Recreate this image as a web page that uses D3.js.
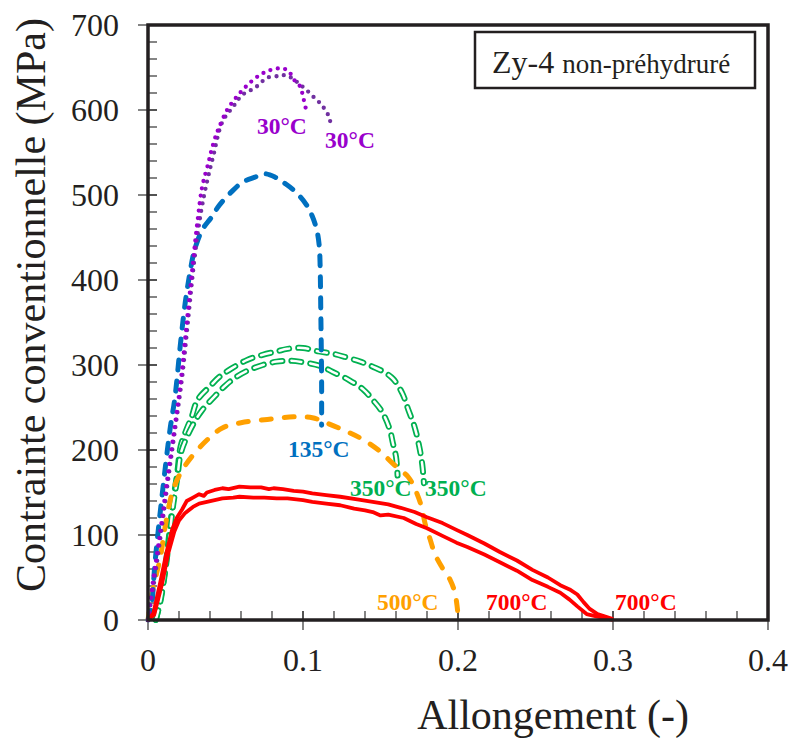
<!DOCTYPE html>
<html><head><meta charset="utf-8">
<script src="https://cdn.jsdelivr.net/npm/d3@7"></script>
<style>body{margin:0;background:#fff}svg{display:block}text,tspan{font-family:"Liberation Serif","Times New Roman",serif}</style>
</head><body>
<script>
const xTicks = [0, 0.1, 0.2, 0.3, 0.4];
const xTickLabels = ["0", "0.1", "0.2", "0.3", "0.4"];
const yTicks = [0, 100, 200, 300, 400, 500, 600, 700];

const purple30a = [[0,0],[0.003,43],[0.008,105],[0.012,160],[0.016,212],[0.021,279],[0.025,350],[0.029,420],[0.032,470],[0.035,510],[0.039,538],[0.041,553],[0.044,571],[0.046,580],[0.051,600],[0.057,615],[0.064,629],[0.072,641],[0.079,647],[0.087,649],[0.091,645],[0.094,636],[0.098,628],[0.1005,612],[0.102,600]];
const purple30b = [[0,0],[0.004,45],[0.009,110],[0.013,165],[0.017,218],[0.022,285],[0.026,355],[0.030,425],[0.034,478],[0.038,515],[0.042,545],[0.048,586],[0.055,604],[0.061,618],[0.069,626],[0.077,638],[0.085,640],[0.089,641],[0.094,636],[0.098,630],[0.102,624],[0.107,615],[0.111,608],[0.114,601],[0.117,591],[0.118,580]];
const blue135 = [[0,0],[0.002,12],[0.0045,67],[0.009,145],[0.0142,224],[0.0174,262],[0.021,326],[0.024,373],[0.027,408],[0.030,435],[0.035,459],[0.041,474],[0.046,488],[0.054,504],[0.061,515],[0.069,521],[0.075,525],[0.082,521],[0.088,514],[0.095,504],[0.102,489],[0.106,475],[0.109,458],[0.1105,440],[0.111,420],[0.1115,361],[0.112,282],[0.112,229]];
const green350a = [[0.005,0],[0.008,24],[0.011,59],[0.014,106],[0.016,137],[0.019,175],[0.021,204],[0.025,225],[0.028,238],[0.032,259],[0.040,275],[0.046,286],[0.054,296],[0.064,306],[0.074,312],[0.083,316],[0.090,319],[0.100,320],[0.110,316],[0.120,313],[0.128,309],[0.137,304],[0.145,298],[0.152,292],[0.158,284],[0.164,267],[0.168,247],[0.172,227],[0.175,204],[0.177,182],[0.178,161]];
const green350b = [[0.005,0],[0.008,22],[0.011,56],[0.014,100],[0.016,132],[0.019,168],[0.021,195],[0.025,215],[0.030,233],[0.035,247],[0.043,263],[0.050,276],[0.057,286],[0.065,294],[0.074,300],[0.083,304],[0.092,305],[0.101,303],[0.111,299],[0.119,292],[0.130,282],[0.139,271],[0.145,259],[0.151,245],[0.156,224],[0.158,208],[0.160,192],[0.161,170]];
const orange500 = [[0,0],[0.003,35],[0.008,74],[0.011,109],[0.0155,149],[0.021,173],[0.029,194],[0.040,215],[0.048,226],[0.060,232],[0.077,236],[0.094,239],[0.106,238],[0.115,232],[0.128,222],[0.139,212],[0.150,198],[0.158,184],[0.168,168],[0.172,155],[0.176,136],[0.179,112],[0.182,95],[0.185,78],[0.189,64],[0.195,47],[0.198,32],[0.1995,15],[0.2,5]];
const red700a = [[0,0],[0.0035,8],[0.008,45],[0.012,80],[0.0155,106],[0.0185,120],[0.022,130],[0.025,140],[0.029,144],[0.033,148],[0.036,146],[0.038,150],[0.043,153],[0.048,155],[0.052,154],[0.059,157],[0.066,156],[0.073,156],[0.078,154],[0.081,155],[0.087,154],[0.094,152],[0.1,151],[0.106,149],[0.115,147],[0.124,145],[0.135,142],[0.145,139],[0.155,136],[0.163,132],[0.172,127],[0.18,121],[0.19,114],[0.199,106],[0.206,100],[0.217,90],[0.227,80],[0.238,70],[0.248,59],[0.258,50],[0.266,41],[0.272,36],[0.277,30],[0.281,21],[0.285,13],[0.29,7],[0.295,4],[0.3,1]];
const red700b = [[0,0],[0.004,6],[0.009,42],[0.013,78],[0.017,104],[0.02,117],[0.024,126],[0.029,133],[0.033,137],[0.038,139],[0.043,141],[0.048,143],[0.055,144],[0.059,145],[0.068,144],[0.075,144],[0.083,143],[0.09,143],[0.1,141],[0.106,139],[0.115,137],[0.124,135],[0.133,131],[0.14,129],[0.145,127],[0.15,123],[0.155,124],[0.165,120],[0.173,113],[0.18,108],[0.19,99],[0.199,91],[0.206,86],[0.217,77],[0.227,68],[0.238,58],[0.248,47],[0.258,39],[0.266,32],[0.272,24],[0.277,16],[0.283,7],[0.292,3],[0.3,0]];

const labelTexts = ["30°C","30°C","135°C","350°C","350°C","500°C","700°C","700°C"];
const labelX = [0.0703,0.1142,0.0903,0.1303,0.1787,0.1477,0.218,0.3013];
const labelY = [572,555,192,146,146,12,12,12];
const labelColors = ["#9900cc","#9900cc","#0070c0","#00b050","#00b050","#ffa000","#ff0000","#ff0000"];

const W = 790, H = 738;
const FONT = '"Liberation Serif","Times New Roman",serif';
const svg = d3.select("body").append("svg").attr("width", W).attr("height", H);
const x = d3.scaleLinear().domain([0, 0.4]).range([148, 768]);
const y = d3.scaleLinear().domain([0, 700]).range([620, 25]);

const line = d3.line().x(d => x(d[0])).y(d => y(d[1])).curve(d3.curveCatmullRom.alpha(0.5));
const lineLin = d3.line().x(d => x(d[0])).y(d => y(d[1]));

// minor ticks
const yMinor = d3.range(0, 701, 20);
svg.append("g").selectAll("line").data(yMinor).join("line")
  .attr("x1", 148).attr("x2", 157).attr("y1", d => y(d)).attr("y2", d => y(d))
  .attr("stroke", "#333").attr("stroke-width", 1.2);
svg.append("g").selectAll("line").data(yTicks).join("line")
  .attr("x1", 138).attr("x2", 157).attr("y1", d => y(d)).attr("y2", d => y(d))
  .attr("stroke", "#333").attr("stroke-width", 1.2);
const xMinor = d3.range(0, 21).map(i => i * 0.02);
svg.append("g").selectAll("line").data(xMinor).join("line")
  .attr("x1", d => x(d)).attr("x2", d => x(d)).attr("y1", 611).attr("y2", 620)
  .attr("stroke", "#333").attr("stroke-width", 1.2);
svg.append("g").selectAll("line").data(xTicks).join("line")
  .attr("x1", d => x(d)).attr("x2", d => x(d)).attr("y1", 611).attr("y2", 630)
  .attr("stroke", "#333").attr("stroke-width", 1.2);

// tick labels
svg.append("g").selectAll("text").data(yTicks).join("text")
  .attr("x", 119).attr("y", d => y(d)).attr("dy", "0.35em").attr("font-family", FONT)
  .attr("text-anchor", "end").attr("font-size", 32).attr("fill", "#231f20").text(d => d);
svg.append("g").selectAll("text").data(xTicks).join("text")
  .attr("x", d => x(d)).attr("y", 671).attr("font-family", FONT)
  .attr("text-anchor", "middle").attr("font-size", 32).attr("fill", "#231f20").text((d, i) => xTickLabels[i]);

// axis titles
svg.append("text").attr("transform", "translate(45,305) rotate(-90)").attr("font-family", FONT)
  .attr("text-anchor", "middle").attr("font-size", 42).attr("fill", "#231f20")
  .text("Contrainte conventionnelle (MPa)");
svg.append("text").attr("x", 553).attr("y", 729).attr("font-family", FONT)
  .attr("text-anchor", "middle").attr("font-size", 42).attr("fill", "#231f20")
  .text("Allongement (-)");

// curves
function outlinedDash(data, color) {
  svg.append("path").attr("d", line(data)).attr("fill", "none").attr("stroke", color)
    .attr("stroke-width", 6).attr("stroke-linecap", "round").attr("stroke-dasharray", "10 9");
  svg.append("path").attr("d", line(data)).attr("fill", "none").attr("stroke", "#fff")
    .attr("stroke-width", 2.5).attr("stroke-linecap", "round").attr("stroke-dasharray", "10 9");
}
outlinedDash(green350a, "#00b050");
outlinedDash(green350b, "#00b050");

svg.append("path").attr("d", line(orange500)).attr("fill", "none").attr("stroke", "#ffa000")
  .attr("stroke-width", 5).attr("stroke-linecap", "round").attr("stroke-dasharray", "10 13");
svg.append("path").attr("d", line(blue135)).attr("fill", "none").attr("stroke", "#0070c0")
  .attr("stroke-width", 5).attr("stroke-linecap", "round").attr("stroke-dasharray", "10 11");
svg.append("path").attr("d", line(purple30b)).attr("fill", "none").attr("stroke", "#7030a0")
  .attr("stroke-width", 4.3).attr("stroke-linecap", "round").attr("stroke-dasharray", "0 7.5");
svg.append("path").attr("d", line(purple30a)).attr("fill", "none").attr("stroke", "#9900cc")
  .attr("stroke-width", 4.3).attr("stroke-linecap", "round").attr("stroke-dasharray", "0 7.5");
[red700a, red700b].forEach(d => {
  svg.append("path").attr("d", lineLin(d)).attr("fill", "none").attr("stroke", "#ff0000")
    .attr("stroke-width", 3.8).attr("stroke-linejoin", "round");
});

// curve labels
svg.append("g").selectAll("text").data(labelTexts).join("text")
  .attr("x", (d, i) => x(labelX[i])).attr("y", (d, i) => y(labelY[i]))
  .attr("font-family", FONT).attr("font-size", 23.5).attr("font-weight", "bold")
  .attr("fill", (d, i) => labelColors[i]).text(d => d);

// frame
svg.append("path").attr("d", `M${x(0)},${y(0)}V${y(700)}H${x(0.4)}V${y(0)}Z`)
  .attr("fill", "none").attr("stroke", "#231f20").attr("stroke-width", 3.5);

// legend box
svg.append("rect").attr("x", 475).attr("y", 32).attr("width", 280).attr("height", 56)
  .attr("fill", "#fff").attr("stroke", "#231f20").attr("stroke-width", 2.5);
const lt = svg.append("text").attr("x", 492).attr("y", 73).attr("fill", "#231f20").attr("font-family", FONT);
lt.append("tspan").attr("font-family", FONT).attr("font-size", 32).text("Zy-4 ");
lt.append("tspan").attr("font-family", FONT).attr("font-size", 27).text("non-préhydruré");
</script>
</body></html>
